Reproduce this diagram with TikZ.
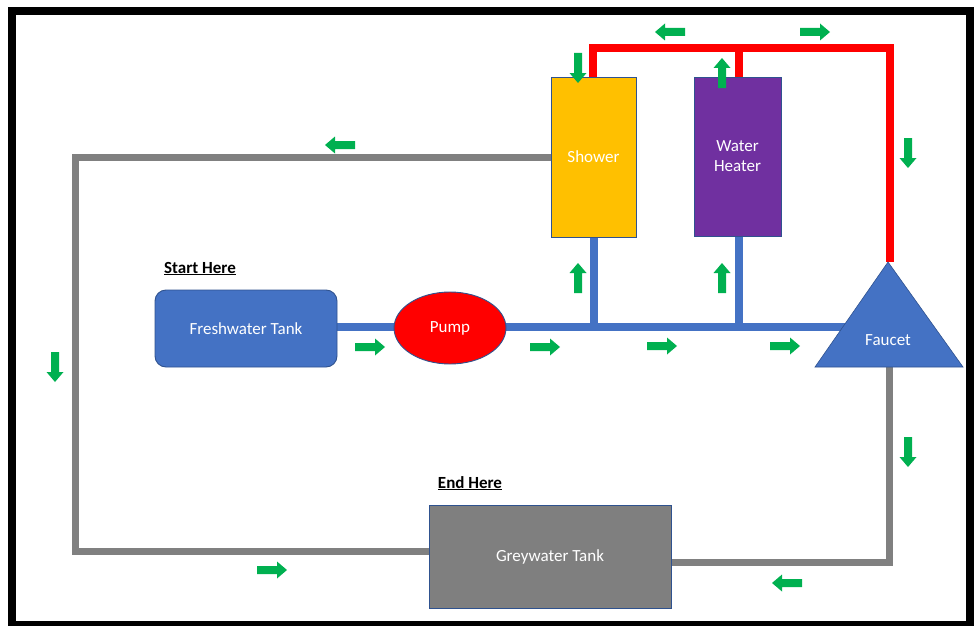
\documentclass[tikz,border=0pt]{standalone}
\usepackage{fontspec}
\setmainfont{Carlito}
\usetikzlibrary{backgrounds,shapes.geometric}
\definecolor{fblue}{HTML}{4472C4}
\definecolor{eblue}{HTML}{2F528F}
\definecolor{pred}{HTML}{FF0000}
\definecolor{pgrey}{HTML}{808080}
\definecolor{tgrey}{HTML}{7F7F7F}
\definecolor{syellow}{HTML}{FFC000}
\definecolor{hpurple}{HTML}{7030A0}
\definecolor{agreen}{HTML}{00B050}
\tikzset{
  x=1pt, y=-1pt,
  lbl/.style={font=\fontsize{17}{20}\selectfont, text=white, align=center},
  boxstyle/.style={draw=eblue, line width=0.9pt, inner sep=0pt, lbl},
  bluepipe/.style={draw=fblue, line width=8pt},
  redpipe/.style={draw=pred, line width=8pt},
  greypipe/.style={draw=pgrey, line width=7pt},
  heading/.style={font=\fontsize{17}{20}\selectfont\bfseries},
  garrow/.pic={\fill[agreen] (-15,-4) -- (5,-4) -- (5,-8.5) -- (15,0) -- (5,8.5) -- (5,4) -- (-15,4) -- cycle;}
}
\begin{document}
\begin{tikzpicture}
\useasboundingbox (0,0) rectangle (974,626);
\draw[line width=8pt, black] (12,11) rectangle (970,625);

% nodes
\node[boxstyle, fill=fblue, rounded corners=11pt, minimum width=182pt, minimum height=77pt] (fresh) at (246,328.5) {Freshwater Tank};
\node[boxstyle, fill=pred, ellipse, minimum width=112pt, minimum height=72pt] (pump) at (450,328) {Pump};
\node[boxstyle, fill=syellow, minimum width=85pt, minimum height=160pt] (shower) at (593.5,157) {Shower};
\node[boxstyle, fill=hpurple, minimum width=87pt, minimum height=159pt] (heater) at (737.5,156.5) {Water\\Heater};
\node[boxstyle, fill=tgrey, minimum width=242pt, minimum height=103pt] (grey) at (550,556.5) {Greywater Tank};
\coordinate (fapex) at (888,262);
\coordinate (fleft) at (815,367);
\coordinate (fright) at (963,367);
\fill[fblue] (fapex) -- (fleft) -- (fright) -- cycle;
\draw[eblue, line width=0.6pt] (fapex) -- (fleft) -- (fright) -- cycle;
\node[lbl] (faucet) at (888,340) {Faucet};

\node[heading, anchor=base] (start) at (200,273) {\underline{Start Here}};
\node[heading, anchor=base] (end) at (470,488) {\underline{End Here}};

% pipes
\begin{scope}[on background layer]
  \coordinate (bj) at (0,327);
  \draw[bluepipe] (fresh.east |- bj) -- (fapex |- bj);
  \draw[bluepipe] (594,327) -- (594,237);
  \draw[bluepipe] (739,327) -- (739,236);
  \draw[redpipe] (593,77) -- (593,48) -- (890,48) -- (890,262);
  \draw[redpipe] (739,48) -- (739,77);
  \draw[greypipe] (shower.west) -- (75,157) -- (75,551) -- (grey.west |- 0,551);
  \draw[greypipe] (grey.east |- 0,562) -- (889,562) -- (889,367);
\end{scope}

% flow arrows
\pic[rotate=180] at (340,145) {garrow};
\pic[rotate=180] at (670,32) {garrow};
\pic at (815,32) {garrow};
\pic[rotate=-90] at (578,68) {garrow};
\pic[rotate=90] at (722,73) {garrow};
\pic[rotate=-90] at (908,153) {garrow};
\pic[rotate=90] at (578,278) {garrow};
\pic[rotate=90] at (722,278) {garrow};
\pic at (370,347) {garrow};
\pic at (545,347) {garrow};
\pic at (662,346) {garrow};
\pic at (785,346) {garrow};
\pic[rotate=-90] at (55,367) {garrow};
\pic[rotate=-90] at (908,452) {garrow};
\pic at (272,570) {garrow};
\pic[rotate=180] at (787,583) {garrow};
\end{tikzpicture}
\end{document}
